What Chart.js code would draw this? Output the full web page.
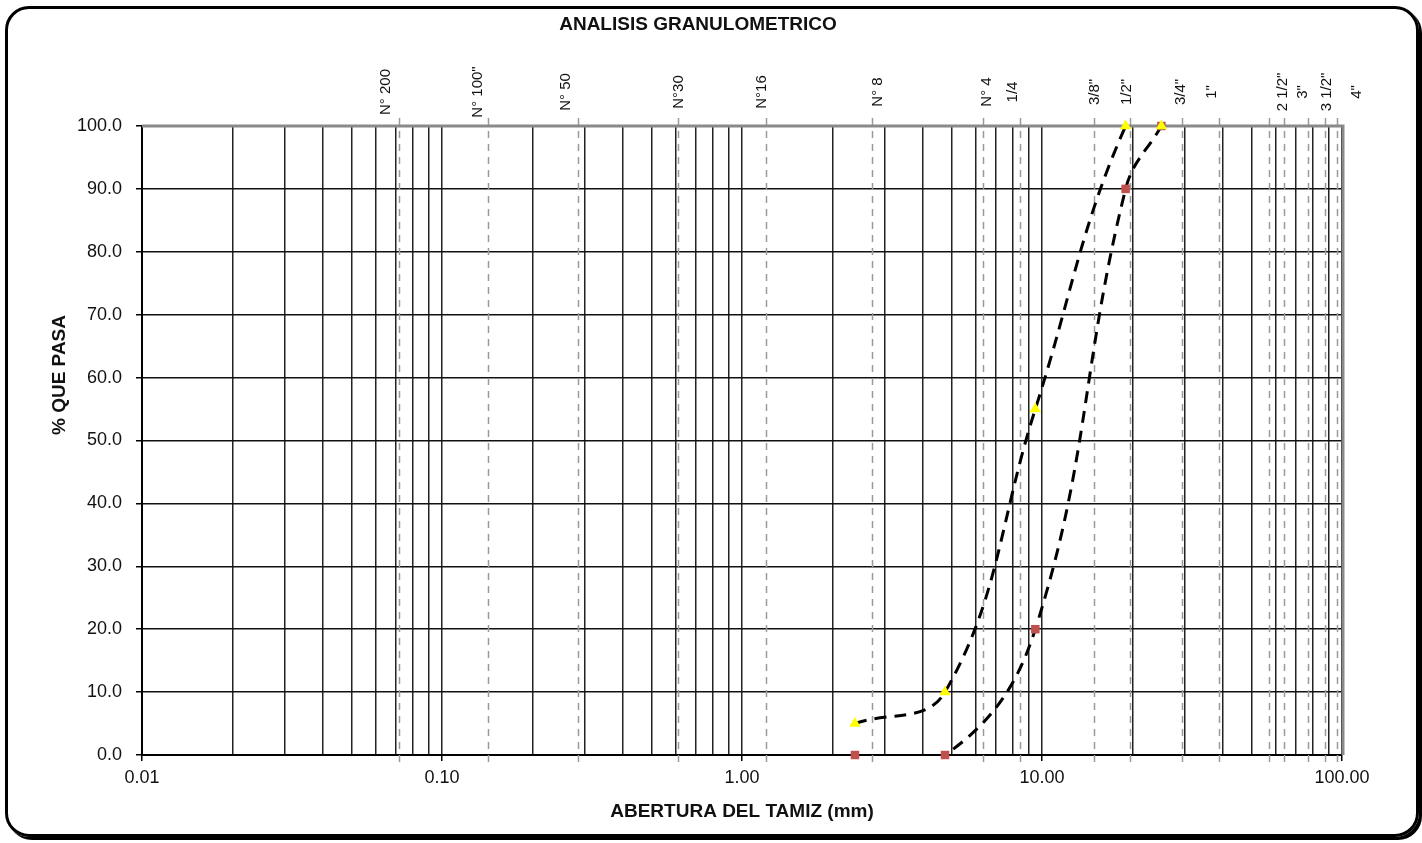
<!DOCTYPE html>
<html>
<head>
<meta charset="utf-8">
<script src="https://cdn.jsdelivr.net/npm/chart.js@4.4.1/dist/chart.umd.min.js"></script>
<style>
html, body { margin: 0; padding: 0; background: #fff; }
#wrap { position: relative; width: 1422px; height: 843px; }
#frame { position: absolute; left: 5px; top: 6px; width: 1408px; height: 825px;
  border: 3px solid #000; border-radius: 24px; box-shadow: 3px 3px 0 #000; pointer-events: none; }
canvas { display: block; }
</style>
</head>
<body>
<div id="wrap">
  <canvas id="granChart" width="1422" height="843"></canvas>
  <div id="frame"></div>
</div>
<script>
// datos
var aberturas = [2.38, 4.75, 9.5, 19.0, 25.0];
var pasaSuperior = [5, 10, 55, 100, 100];
var pasaInferior = [0, 0, 20, 90, 100];

// tamices (lineas discontinuas)
var tamices = ['N° 200', 'N° 100"', 'N° 50', 'N°30', 'N°16', 'N° 8', 'N° 4', '1/4', '3/8"', '1/2"', '3/4"', '1"', '', '2 1/2"', '3"', '3 1/2"', '4"'];
var aberturaTamiz = [0.072, 0.142, 0.284, 0.612, 1.2, 2.71, 6.36, 8.45, 14.9, 19.65, 29.3, 38.9, 57.1, 64.1, 77.0, 87.8, 96.2];

var decadasX = [0.01, 0.1, 1, 10, 100];
var ticksY = [0, 10, 20, 30, 40, 50, 60, 70, 80, 90, 100];

var FONT = '"Liberation Sans", Arial, sans-serif';
Chart.defaults.font.family = FONT;
Chart.defaults.color = '#111';

function puntos(ys) {
    return aberturas.map(function(x, i) { return {x: x, y: ys[i]}; });
}

function esDecada(v) {
    var l = Math.log10(v);
    return Math.abs(l - Math.round(l)) < 1e-9;
}

// lineas de la grilla log: 1..9 por decada
var gridX = [];
for (var d = 0; d < decadasX.length - 1; d++) {
    for (var k = 1; k <= 9; k++) gridX.push(+(decadasX[d] * k).toPrecision(6));
}
gridX.push(decadasX[decadasX.length - 1]);

// desplazamiento de cada etiqueta respecto a su linea (estilo)
var labelDx = [-13, -10, -12, 1, -4, 6, 4, -7, 1, -3, -1, -7, 0, -1, -5, 2, 20];

var tamicesPlugin = {
    id: 'tamices',
    beforeDatasetsDraw: function(chart) {
        var c = chart.ctx, x = chart.scales.x, a = chart.chartArea;
        c.save();
        c.strokeStyle = '#9a9a9a';
        c.lineWidth = 1.5;
        c.setLineDash([7, 6]);
        aberturaTamiz.forEach(function(v) {
            var px = Math.round(x.getPixelForValue(v)) + 0.5;
            c.beginPath();
            c.moveTo(px, a.top - 8);
            c.lineTo(px, a.bottom + 10);
            c.stroke();
        });
        c.setLineDash([]);
        // borde superior y derecho gris
        c.strokeStyle = '#8a8a8a';
        c.lineWidth = 3;
        c.beginPath();
        c.moveTo(a.left, a.top);
        c.lineTo(a.right + 1, a.top);
        c.lineTo(a.right + 1, a.bottom);
        c.stroke();
        c.restore();
    },
    afterDraw: function(chart) {
        var c = chart.ctx, x = chart.scales.x;
        c.save();
        c.fillStyle = '#111';
        c.font = '15px ' + FONT;
        c.textAlign = 'center';
        c.textBaseline = 'middle';
        tamices.forEach(function(t, i) {
            if (!t) return;
            var px = x.getPixelForValue(aberturaTamiz[i]) + labelDx[i];
            c.save();
            c.translate(px, 92);
            c.rotate(-Math.PI / 2);
            c.fillText(t, 0, 0);
            c.restore();
        });
        // titulo
        c.font = 'bold 19px ' + FONT;
        c.fillText('ANALISIS GRANULOMETRICO', 698, 25);
        // titulo eje Y
        c.save();
        c.translate(60, 375);
        c.rotate(-Math.PI / 2);
        c.fillText('% QUE PASA', 0, 0);
        c.restore();
        c.restore();
    }
};

function curva(ys) {
    return {
        data: puntos(ys),
        showLine: true,
        clip: { left: 0, right: 0, top: -2, bottom: -2 },
        borderColor: '#000',
        borderWidth: 3,
        borderDash: [12, 8],
        tension: 0.4,
        pointRadius: 0
    };
}

function marcas(ys, estilo, color, r) {
    return {
        data: puntos(ys),
        showLine: false,
        clip: false,
        pointStyle: estilo,
        pointRadius: r,
        pointBackgroundColor: color,
        pointBorderColor: color,
        pointBorderWidth: 0
    };
}

var ctx = document.getElementById('granChart');
new Chart(ctx, {
    type: 'scatter',
    data: {
        datasets: [
            marcas(pasaSuperior, 'triangle', '#ffff00', 6.5),
            marcas(pasaInferior, 'rect', '#c0504d', 6),
            curva(pasaSuperior),
            curva(pasaInferior)
        ]
    },
    options: {
        responsive: false,
        animation: false,
        layout: { padding: { top: 126, right: 80, left: 0, bottom: 0 } },
        plugins: { legend: { display: false }, tooltip: { enabled: false } },
        scales: {
            x: {
                type: 'logarithmic',
                min: 0.01,
                max: 100,
                afterFit: function(s) { s.height = 88; },
                afterBuildTicks: function(s) { s.ticks = gridX.map(function(v) { return {value: v}; }); },
                grid: {
                    color: '#222',
                    lineWidth: 1.5,
                    tickLength: 6,
                    tickColor: function(c) { return c.tick && esDecada(c.tick.value) ? '#000' : 'rgba(0,0,0,0)'; }
                },
                border: { color: '#000', width: 2 },
                ticks: {
                    autoSkip: false,
                    maxRotation: 0,
                    padding: 6,
                    font: { size: 18 },
                    callback: function(v) { return esDecada(v) ? v.toFixed(2) : ''; }
                },
                title: {
                    display: true,
                    text: 'ABERTURA DEL TAMIZ (mm)',
                    font: { size: 19, weight: 'bold' },
                    padding: { top: 4, bottom: 20 }
                }
            },
            y: {
                min: 0,
                max: 100,
                afterFit: function(s) { s.width = 142; },
                afterBuildTicks: function(s) { s.ticks = ticksY.map(function(v) { return {value: v}; }); },
                grid: { color: '#111', lineWidth: 1.5, tickLength: 6, tickColor: '#000' },
                border: { color: '#000', width: 2 },
                ticks: {
                    padding: 14,
                    font: { size: 18 },
                    callback: function(v) { return v.toFixed(1); }
                }
            }
        }
    },
    plugins: [tamicesPlugin]
});
</script>
</body>
</html>
